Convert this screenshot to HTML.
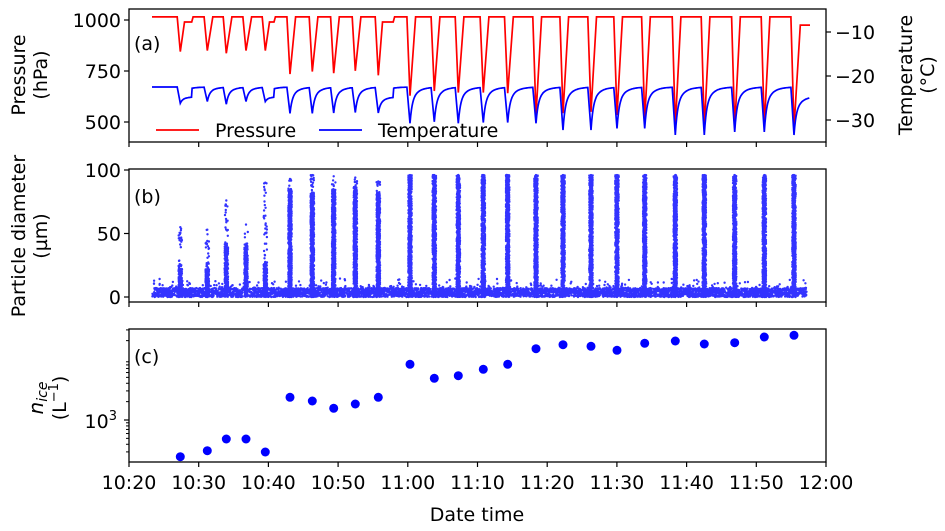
<!DOCTYPE html>
<html><head><meta charset="utf-8"><style>
html,body{margin:0;padding:0;background:#fff;}
svg{display:block;font-family:"DejaVu Sans","Liberation Sans",sans-serif;}
</style></head><body>
<svg id="chart" width="945" height="531" viewBox="0 0 945 531">
<g id="pa"></g>
<g id="pb"></g>
<g id="pc"></g>
<g id="axes"></g>
</svg>
<script>
// ---- data ----
const eventTimes = [7.36,11.23,13.96,16.79,19.56,23.10,26.30,29.37,32.47,35.77,40.32,43.80,47.25,50.83,54.33,58.39,62.27,66.28,70.01,73.99,78.38,82.54,86.90,91.15,95.41];
const pressureMin = [845,850,837,850,850,735,747,739,751,729,629,652,644,644,641,534,543,550,534,515,477,469,469,477,469];
const temperatureMin = [-26.2,-25.8,-26.4,-25.8,-25.8,-28.5,-28.5,-28.4,-28.3,-28.4,-30.75,-30.4,-30.75,-30.6,-30.6,-30.75,-32.3,-32.3,-31.9,-31.9,-33.4,-33.4,-32.7,-32.7,-33.4];
const shoulderEvents = [0,4,9];
const shoulderEnd = [9.0,20.8,37.9];
const maxDiameter = [55,53,76,57,90,93,96,95,94,91,96,96,96,96,96,96,96,96,96,96,96,96,96,96,96];
const denseDiameter = [22,22,42,40,28,85,82,85,85,82,96,96,96,96,96,96,96,96,96,96,96,96,96,96,96];
const nIce = [250,314,488,488,299,2355,2048,1555,1830,2355,8190,4830,5320,6780,8190,14750,17150,16150,13890,18080,19730,17620,18500,22950,24470];
const timeTicks = ["10:20","10:30","10:40","10:50","11:00","11:10","11:20","11:30","11:40","11:50","12:00"];
const pressureTicks = [1000,750,500];
const tempTicks = [-10,-20,-30];
const diamTicks = [100,50,0];
const basePressure = 1015, baseTemp = -22.5, startTime = 3.3, endTime = 97.7;

// ---- scales ----
const X0=129, X1=826;
const xs = t => X0 + t*(X1-X0)/100;
const yP = p => 20 + (1000-p)*51/250;
const yT = c => 32 + (-10-c)*4.4;
const yD = d => 297 - d*1.27;
const yN = v => 420 - 61*Math.log10(v/1000);
const NS="http://www.w3.org/2000/svg";
const FS=19;
function mk(tag, attrs, parent){const e=document.createElementNS(NS,tag);for(const k in attrs)e.setAttribute(k,attrs[k]);parent.appendChild(e);return e;}
const pa=document.getElementById('pa'), pb=document.getElementById('pb'), pc=document.getElementById('pc'), ax=document.getElementById('axes');

// ---- panel a series ----
let pPts=[[startTime,basePressure]], tPts=[[startTime,baseTemp]];
for(let i=0;i<eventTimes.length;i++){
  const tm=eventTimes[i];
  const next = i+1<eventTimes.length ? eventTimes[i+1]-0.45 : endTime;
  const si = shoulderEvents.indexOf(i);
  const last = i===eventTimes.length-1;
  pPts.push([tm-0.45,basePressure]); pPts.push([tm,pressureMin[i]]);
  tPts.push([tm-0.45, tPts[tPts.length-1][1]]); tPts.push([tm,temperatureMin[i]]);
  if(si>=0){
    pPts.push([tm+0.6,990]); pPts.push([shoulderEnd[si],990]); pPts.push([shoulderEnd[si]+0.2,basePressure]);
  } else if(last){
    pPts.push([tm+0.9,975]); pPts.push([endTime,975]);
  } else { pPts.push([tm+0.8,basePressure]); }
  for(let t=tm+0.1;t<=next+0.001;t+=0.1){
    let target = baseTemp;
    if(si>=0 && t<shoulderEnd[si]) target=-24.7;
    if(last) target=-24.6;
    const dt=t-tm;
    const v = target-(target-temperatureMin[i])*(0.6*Math.exp(-dt/0.3)+0.4*Math.exp(-dt/1.0));
    tPts.push([t,v]);
  }
}
if(pPts[pPts.length-1][0]<endTime) pPts.push([endTime,basePressure]);
const pl=mk('polyline',{points:pPts.map(p=>xs(p[0]).toFixed(1)+','+yP(p[1]).toFixed(1)).join(' '),fill:'none',stroke:'#ff0000','stroke-width':1.7},pa);
 
const tl=mk('polyline',{points:tPts.map(p=>xs(p[0]).toFixed(1)+','+yT(p[1]).toFixed(1)).join(' '),fill:'none',stroke:'#0000ff','stroke-width':1.7},pa);
 

// ---- panel b scatter (texture seeded) ----
let seed=12345; const rnd=()=>{seed=(seed*1103515245+12345)%2147483648;return seed/2147483648;};
let d='';
function dot(t,v){const x=xs(t),y=yD(v);d+=`M${(x-1.2).toFixed(1)} ${y.toFixed(1)}a1.2 1.2 0 1 0 2.4 0a1.2 1.2 0 1 0 -2.4 0`;}
for(let k=0;k<14000;k++){const t=startTime+rnd()*(endTime-0.5-startTime);const r=rnd();dot(t, r<0.93? rnd()*7 : 6+rnd()*rnd()*10);}
for(let i=0;i<eventTimes.length;i++){
  const tm=eventTimes[i];
  const n = i<5?260:700;
  for(let k=0;k<n;k++){const t=tm+(rnd()-0.5)*0.5;let v;const r=rnd();
    if(r<0.85) v=rnd()*denseDiameter[i]; else v=rnd()*maxDiameter[i];
    dot(t,v);}
  dot(tm,maxDiameter[i]);
}
const sc=mk('path',{d:d,fill:'#0000ff','fill-opacity':0.8},pb);
 

// ---- panel c ----
for(let i=0;i<nIce.length;i++){
  const c=mk('circle',{cx:xs(eventTimes[i]).toFixed(1),cy:yN(nIce[i]).toFixed(1),r:4.5,fill:'#0000ff'},pc);
   
}

// ---- frames & ticks ----
const panels=[[9,142],[169,302],[329,462]];
panels.forEach((p,j)=>{
  const r=mk('rect',{x:X0,y:p[0],width:X1-X0,height:p[1]-p[0],fill:'none',stroke:'#000','stroke-width':1.3},ax);
   
  for(let k=0;k<timeTicks.length;k++){
    const x=X0+k*(X1-X0)/10;
    mk('line',{x1:x,x2:x,y1:p[1],y2:p[1]+5,stroke:'#000','stroke-width':1.2},ax);
    if(j===2){const t=mk('text',{x:x,y:p[1]+27,'text-anchor':'middle','font-size':FS},ax);t.textContent=timeTicks[k];
       }
  }
});
function yTick(y,label,right){
  if(right){mk('line',{x1:X1,x2:X1+5,y1:y,y2:y,stroke:'#000','stroke-width':1.2},ax);
    const t=mk('text',{x:X1+9,y:y+7,'font-size':FS},ax);t.textContent=label;}
  else{mk('line',{x1:X0-5,x2:X0,y1:y,y2:y,stroke:'#000','stroke-width':1.2},ax);
    const t=mk('text',{x:X0-8,y:y+7,'font-size':FS,'text-anchor':'end'},ax);t.textContent=label;}
}
pressureTicks.forEach(p=>yTick(yP(p),String(p),false));
tempTicks.forEach(c=>yTick(yT(c),'\u2212'+Math.abs(c),true));
diamTicks.forEach(v=>yTick(yD(v),String(v),false));
[300,400,500,600,700,800,900,2000,3000,4000,5000,6000,7000,8000,9000,20000,30000].forEach(v=>{
  const y=yN(v); if(y<329||y>462) return;
  mk('line',{x1:X0-3,x2:X0,y1:y,y2:y,stroke:'#000','stroke-width':1},ax);
});
mk('line',{x1:X0-5,x2:X0,y1:yN(1000),y2:yN(1000),stroke:'#000','stroke-width':1.2},ax);
</script>
<script>
const svg=document.getElementById('chart');
svg.insertAdjacentHTML('beforeend',`
<text x="117" y="428" font-size="19" text-anchor="end">10<tspan dy="-8" font-size="13">3</tspan></text>
<text x="134" y="50" font-size="19">(a)</text>
<text x="134" y="203" font-size="19">(b)</text>
<text x="134" y="363" font-size="19">(c)</text>
<g>
<line x1="156" x2="199" y1="130" y2="130" stroke="#ff0000" stroke-width="1.8"/>
<text x="215" y="137" font-size="19">Pressure</text>
<line x1="319" x2="362" y1="130" y2="130" stroke="#0000ff" stroke-width="1.8"/>
<text x="378" y="137" font-size="19">Temperature</text>
</g>
<text transform="translate(25,75) rotate(-90)" font-size="19" text-anchor="middle">Pressure</text>
<text transform="translate(47,75) rotate(-90)" font-size="19" text-anchor="middle">(hPa)</text>
<text transform="translate(25,236) rotate(-90)" font-size="19" text-anchor="middle">Particle diameter</text>
<text transform="translate(47,236) rotate(-90)" font-size="19" text-anchor="middle">(µm)</text>
<text transform="translate(43,398) rotate(-90)" font-size="20" text-anchor="middle"><tspan font-style="italic">n</tspan><tspan font-size="14" font-style="italic" dy="4">ice</tspan></text>
<text transform="translate(66,398) rotate(-90)" font-size="19" text-anchor="middle">(L<tspan font-size="13" dy="-8">−1</tspan><tspan dy="8">)</tspan></text>
<text transform="translate(912,75) rotate(-90)" font-size="19" text-anchor="middle">Temperature</text>
<text transform="translate(934,75) rotate(-90)" font-size="19" text-anchor="middle">(°C)</text>
<text x="477" y="521" font-size="19" text-anchor="middle">Date time</text>
`);
</script>
</body></html>
